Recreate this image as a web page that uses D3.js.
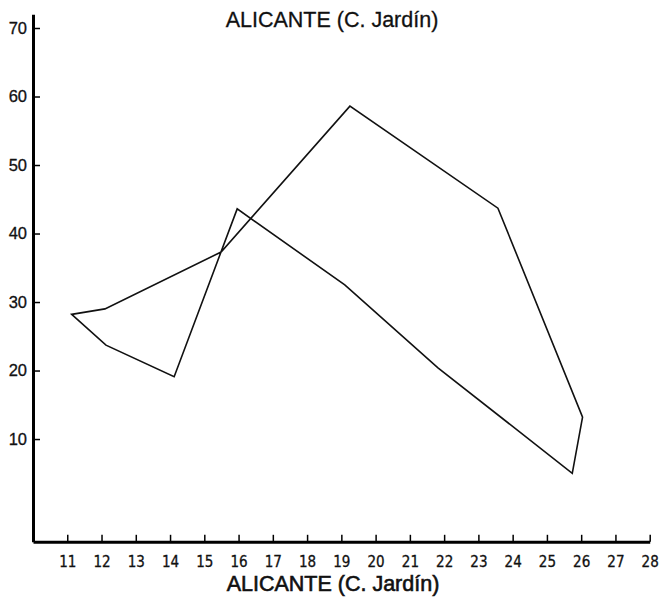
<!DOCTYPE html>
<html>
<head>
<meta charset="utf-8">
<script src="https://cdn.jsdelivr.net/npm/d3@7"></script>
<style>
  html, body { margin: 0; padding: 0; background: #fff; }
  svg { display: block; }
  text { font-family: "Liberation Sans", Arial, sans-serif; fill: #111; }
</style>
</head>
<body>
<div id="chart"></div>
<script>
// Monthly mean temperature (°C) and precipitation (mm), Jan → Dec
const months = ["Ene", "Feb", "Mar", "Abr", "May", "Jun", "Jul", "Ago", "Sep", "Oct", "Nov", "Dic"];
const temperature = [11.13, 12.13, 14.12, 15.96, 19.1, 21.82, 25.74, 26.04, 23.57, 19.25, 15.49, 12.1];
const precipitation = [28.2, 23.7, 19.1, 43.6, 32.5, 20.4, 5.0, 13.2, 43.7, 58.6, 37.3, 29.0];

const xTicks = [11, 12, 13, 14, 15, 16, 17, 18, 19, 20, 21, 22, 23, 24, 25, 26, 27, 28];
const yTicks = [10, 20, 30, 40, 50, 60, 70];
const title = "ALICANTE (C. Jardín)";

const W = 662, H = 597;
const svg = d3.select("#chart").append("svg").attr("width", W).attr("height", H);

const x = d3.scaleLinear().domain([10, 28]).range([33, 649.7]);
const y = d3.scaleLinear().domain([-5, 72]).range([541.8, 14.3]);

// Climogram polygon
const points = months.map((m, i) => [temperature[i], precipitation[i]]);
svg.append("path")
  .datum(points)
  .attr("fill", "none")
  .attr("stroke", "#111")
  .attr("stroke-width", 1.6)
  .attr("stroke-linejoin", "miter")
  .attr("d", d3.line().x(d => x(d[0])).y(d => y(d[1])).curve(d3.curveLinearClosed));

// Axes
const xAxis = svg.append("g")
  .attr("transform", `translate(0,${y(-5)})`)
  .call(d3.axisBottom(x).tickValues(xTicks).tickSizeInner(-7).tickSizeOuter(0).tickPadding(15).tickFormat(d3.format("d")));
xAxis.select(".domain").attr("stroke-width", 3);
xAxis.selectAll(".tick line").attr("stroke-width", 1.5);
xAxis.selectAll("text")
  .style("font-size", "15px")
  .style("font-family", "'Liberation Sans Narrow', 'DejaVu Sans Condensed', sans-serif")
  .attr("fill", "#111").attr("stroke", "#111").attr("stroke-width", 0.3);

const yAxis = svg.append("g")
  .attr("transform", `translate(${x(10)},0)`)
  .call(d3.axisLeft(y).tickValues(yTicks).tickSizeInner(-7).tickSizeOuter(0).tickPadding(6).tickFormat(d3.format("d")));
yAxis.select(".domain").attr("stroke-width", 3);
yAxis.selectAll(".tick line").attr("stroke-width", 1.5);
yAxis.selectAll("text").style("font-size", "16.5px")
  .attr("fill", "#111").attr("stroke", "#111").attr("stroke-width", 0.3);

// Titles
svg.append("text")
  .attr("x", 332).attr("y", 27)
  .attr("text-anchor", "middle")
  .style("font-size", "21.5px")
  .attr("stroke", "#111").attr("stroke-width", 0.3)
  .text(title);

svg.append("text")
  .attr("x", 333).attr("y", 591)
  .attr("text-anchor", "middle")
  .style("font-size", "21.5px")
  .attr("stroke", "#111").attr("stroke-width", 0.6)
  .text(title);
</script>
</body>
</html>
